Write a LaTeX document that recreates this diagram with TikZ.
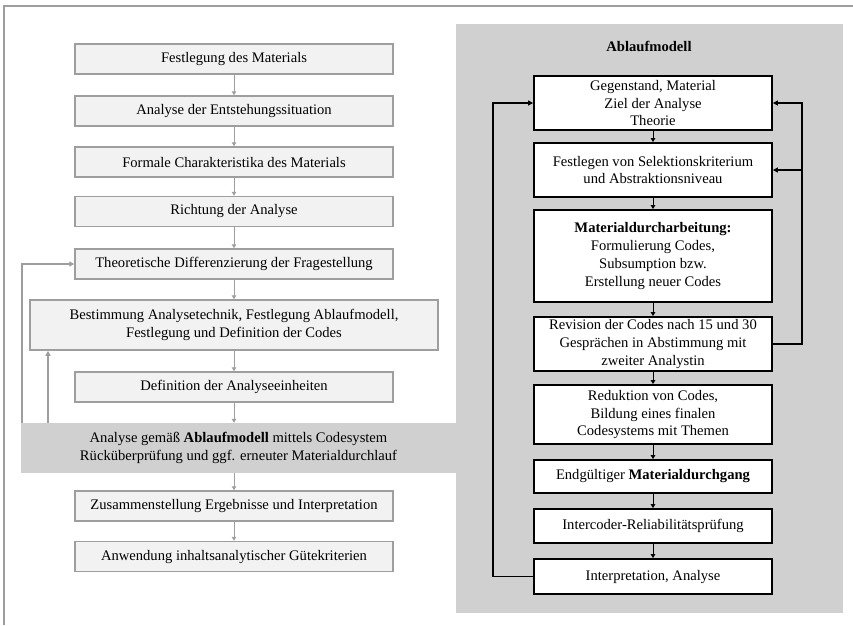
\documentclass[tikz,border=0pt]{standalone}
\usepackage{fontspec}
\setmainfont{Liberation Serif}
\usetikzlibrary{arrows.meta}
\definecolor{feldgrau}{HTML}{D0D0D0}
\definecolor{kastengrau}{HTML}{F2F2F2}
\definecolor{liniengrau}{HTML}{9E9E9E}
\tikzset{
  schrift/.style={font=\fontsize{14.6}{17.7}\selectfont},
  stufe/.style={schrift, draw=liniengrau, line width=1.5pt, fill=kastengrau,
    inner sep=0pt, align=center, minimum width=318, minimum height=30},
  band/.style={schrift, fill=feldgrau, inner sep=0pt, align=center,
    minimum width=435, minimum height=50},
  modul/.style={schrift, draw=black, line width=1.8pt, fill=white,
    inner sep=0pt, align=center, minimum width=238},
  pfeil/.style={draw=liniengrau, line width=1pt, -{Triangle[length=4pt,width=4.5pt]}},
  rueck/.style={draw=liniengrau, line width=1.4pt, -{Triangle[length=5pt,width=5pt]}},
  spfeil/.style={draw=black, line width=1pt, -{Triangle[length=4pt,width=4.5pt]}},
  schleife/.style={draw=black, line width=1.5pt, -{Triangle[length=5pt,width=5pt]}},
}
\begin{document}
\begin{tikzpicture}[x=1pt,y=-1pt]
\useasboundingbox (0,0) rectangle (853,625);
% Rahmen
\draw[liniengrau, line width=1.3pt] (4,625) -- (4,6) -- (853,6);
% Feld Ablaufmodell
\fill[feldgrau] (456,24) rectangle (843,613);
\node[schrift, font=\fontsize{14.6}{17.7}\selectfont\bfseries] (titel) at (649,46) {Ablaufmodell};

% linke Spalte
\node[stufe] (l1) at (234,59) {Festlegung des Materials};
\node[stufe] (l2) at (234,111) {Analyse der Entstehungssituation};
\node[stufe] (l3) at (234,162) {Formale Charakteristika des Materials};
\node[stufe] (l4) at (234,211.5) {Richtung der Analyse};
\node[stufe] (l5) at (234,264) {Theoretische Differenzierung der Fragestellung};
\node[stufe, minimum width=408, minimum height=50] (l6) at (234,325)
  {Bestimmung Analysetechnik, Festlegung Ablaufmodell,\\Festlegung und Definition der Codes};
\node[stufe] (l7) at (234,387) {Definition der Analyseeinheiten};
\node[band] (band) at (238.5,448)
  {Analyse gemäß \textbf{Ablaufmodell} mittels Codesystem\\Rücküberprüfung und ggf. erneuter Materialdurchlauf};
\node[stufe] (l8) at (234,506) {Zusammenstellung Ergebnisse und Interpretation};
\node[stufe] (l9) at (234,556.5) {Anwendung inhaltsanalytischer Gütekriterien};

\foreach \a/\b in {l1/l2,l2/l3,l3/l4,l4/l5,l5/l6,l6/l7,l7/band,band/l8,l8/l9}
  \draw[pfeil] (\a.south -| l1.south) -- (\b.north -| l1.south);

% Rueckkopplung links
\coordinate (rueckA) at (22,0);
\coordinate (rueckB) at (48,0);
\draw[rueck] (band.north -| rueckA) |- (l5.west);
\draw[rueck] (band.north -| rueckB) -- (l6.south -| rueckB);

% rechte Spalte
\node[modul, minimum height=54] (r1) at (653,103) {Gegenstand, Material\\Ziel der Analyse\\Theorie};
\node[modul, minimum height=54] (r2) at (653,170) {Festlegen von Selektionskriterium\\und Abstraktionsniveau};
\node[modul, minimum height=92] (r3) at (653,256)
  {\textbf{Materialdurcharbeitung:}\\Formulierung Codes,\\Subsumption bzw.\\Erstellung neuer Codes};
\node[modul, minimum height=54] (r4) at (653,344)
  {Revision der Codes nach 15 und 30\\Gesprächen in Abstimmung mit\\zweiter Analystin};
\node[modul, minimum height=59] (r5) at (653,414.5)
  {Reduktion von Codes,\\Bildung eines finalen\\Codesystems mit Themen};
\node[modul, minimum height=33] (r6) at (653,476.5) {Endgültiger \textbf{Materialdurchgang}};
\node[modul, minimum height=34] (r7) at (653,526) {Intercoder-Reliabilitätsprüfung};
\node[modul, minimum height=35] (r8) at (653,576.5) {Interpretation, Analyse};

\foreach \a/\b in {r1/r2,r2/r3,r3/r4,r4/r5,r5/r6,r6/r7,r7/r8}
  \draw[spfeil] (\a.south) -- (\b.north);

% Schleifen
\coordinate (schleifeL) at (493,0);
\coordinate (schleifeR) at (802,0);
\draw[schleife] (r8.west) -- (r8.west -| schleifeL) |- (r1.west);
\draw[schleife] (r4.east) -- (r4.east -| schleifeR) |- (r1.east);
\draw[schleife] (r2.east -| schleifeR) -- (r2.east);
\end{tikzpicture}
\end{document}
